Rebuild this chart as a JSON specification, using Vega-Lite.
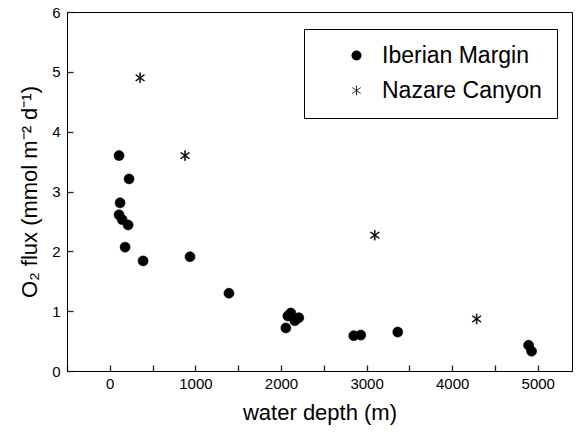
{
  "$schema": "https://vega.github.io/schema/vega-lite/v6.json",
  "width": 505,
  "height": 359,
  "autosize": {"type": "none"},
  "padding": {"left": 67, "top": 12, "right": 4, "bottom": 65},
  "background": "white",
  "config": {
    "view": {"stroke": "black", "strokeWidth": 1},
    "font": "Liberation Sans",
    "axis": {"grid": false, "domainColor": "black", "labelColor": "black", "titleColor": "black", "labelFont": "Liberation Sans", "titleFont": "Liberation Sans", "titleFontWeight": "normal"}
  },
  "data": {"values": [
    {"depth": 108, "flux": 3.6, "site": "Iberian Margin"},
    {"depth": 225, "flux": 3.21, "site": "Iberian Margin"},
    {"depth": 120, "flux": 2.81, "site": "Iberian Margin"},
    {"depth": 108, "flux": 2.61, "site": "Iberian Margin"},
    {"depth": 144, "flux": 2.53, "site": "Iberian Margin"},
    {"depth": 214, "flux": 2.44, "site": "Iberian Margin"},
    {"depth": 179, "flux": 2.07, "site": "Iberian Margin"},
    {"depth": 389, "flux": 1.84, "site": "Iberian Margin"},
    {"depth": 937, "flux": 1.91, "site": "Iberian Margin"},
    {"depth": 1392, "flux": 1.3, "site": "Iberian Margin"},
    {"depth": 2057, "flux": 0.72, "site": "Iberian Margin"},
    {"depth": 2080, "flux": 0.92, "site": "Iberian Margin"},
    {"depth": 2115, "flux": 0.97, "site": "Iberian Margin"},
    {"depth": 2162, "flux": 0.84, "site": "Iberian Margin"},
    {"depth": 2208, "flux": 0.89, "site": "Iberian Margin"},
    {"depth": 2850, "flux": 0.59, "site": "Iberian Margin"},
    {"depth": 2932, "flux": 0.6, "site": "Iberian Margin"},
    {"depth": 3364, "flux": 0.65, "site": "Iberian Margin"},
    {"depth": 4893, "flux": 0.43, "site": "Iberian Margin"},
    {"depth": 4928, "flux": 0.33, "site": "Iberian Margin"},
    {"depth": 354, "flux": 4.9, "site": "Nazare Canyon"},
    {"depth": 879, "flux": 3.6, "site": "Nazare Canyon"},
    {"depth": 3096, "flux": 2.27, "site": "Nazare Canyon"},
    {"depth": 4286, "flux": 0.87, "site": "Nazare Canyon"}
  ]},
  "mark": {"type": "point", "filled": true, "stroke": "black", "strokeWidth": 0.6, "opacity": 1, "size": 100},
  "encoding": {
    "x": {"field": "depth", "type": "quantitative",
      "scale": {"domain": [-500, 5400], "nice": false, "zero": false},
      "axis": {"orient": "bottom", "tickCount": 12, "format": "d", "labelExpr": "datum.value % 1000 === 0 ? datum.label : ''", "tickColor": "#222222", "tickWidth": 1.3, "tickSize": -6, "labelPadding": 11, "labelFontSize": 15, "title": "water depth (m)", "titleFontSize": 22, "titlePadding": 11}},
    "y": {"field": "flux", "type": "quantitative",
      "scale": {"domain": [0, 6], "nice": false, "zero": true},
      "axis": {"orient": "left", "tickCount": 12, "format": "d", "labelExpr": "datum.value % 1 === 0 ? datum.label : ''", "tickColor": "#222222", "tickWidth": 1.3, "tickSize": -6, "labelPadding": 13, "labelFontSize": 15, "title": "O₂ flux (mmol m⁻² d⁻¹)", "titleFontSize": 22, "titlePadding": 10}},
    "shape": {"field": "site", "type": "nominal",
      "scale": {"domain": ["Iberian Margin", "Nazare Canyon"], "range": ["circle", "M-0.08,-1L0.08,-1L0.08,1L-0.08,1ZM-0.804,-0.665L0.896,0.535L0.804,0.665L-0.896,-0.535ZM-0.896,0.535L0.804,-0.665L0.896,-0.535L-0.804,0.665Z"]},
      "legend": {"title": null, "orient": "none", "legendX": 237, "legendY": 17, "strokeColor": "black", "fillColor": "white", "padding": 15, "labelFontSize": 23, "labelColor": "black", "labelFont": "Liberation Sans", "symbolSize": 100, "symbolOffset": 26, "symbolFillColor": "black", "symbolStrokeColor": "black", "symbolStrokeWidth": 0.6, "rowPadding": 11, "labelOffset": 14, "zindex": 2}},
    "color": {"value": "black"}
  }
}
